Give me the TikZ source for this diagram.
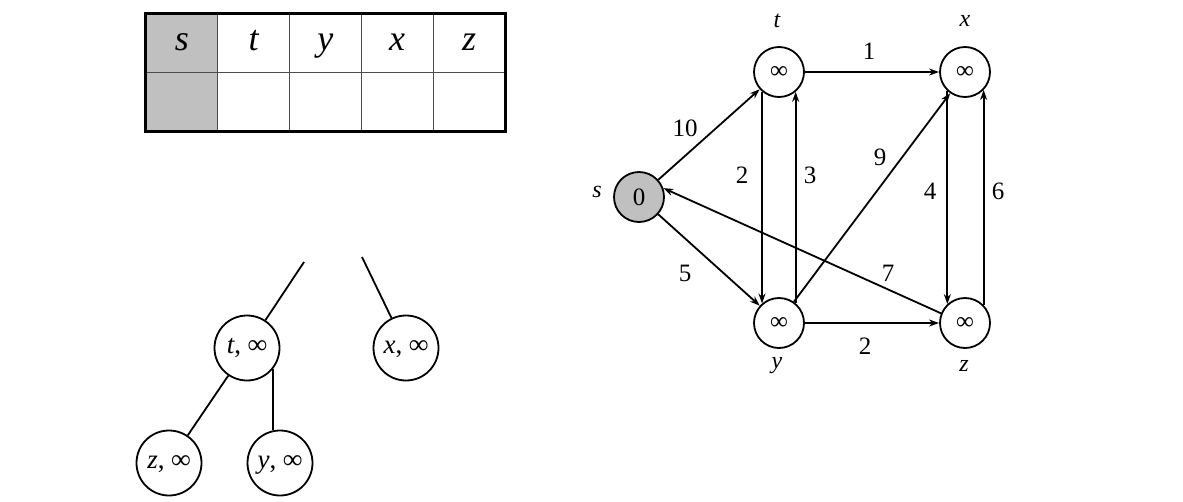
\documentclass[tikz,border=0pt]{standalone}
\usepackage{fontspec}
\setmainfont{Liberation Serif}
\usetikzlibrary{arrows.meta}
\definecolor{cellgray}{RGB}{192,192,192}
\tikzset{
  cell/.style={draw=black!70, line width=1pt, minimum width=72pt, minimum height=58.5pt, inner sep=0pt, text height=22pt, text depth=8pt, font=\fontsize{36}{36}\selectfont\itshape},
  gnode/.style={circle, draw, line width=1.8pt, minimum size=50pt, inner sep=0pt, font=\fontsize{25}{25}\selectfont},
  tnode/.style={circle, draw, line width=1.8pt, minimum size=65pt, inner sep=0pt, text height=17pt, text depth=6pt, font=\fontsize{27}{27}\selectfont},
  nlab/.style={font=\fontsize{24}{24}\selectfont\itshape},
  wlab/.style={font=\fontsize{25}{25}\selectfont},
  edge/.style={line width=1.8pt, -{Stealth[length=10pt,width=7pt]}},
  tedge/.style={line width=1.8pt},
}
\begin{document}
\begin{tikzpicture}[x=1pt,y=-1pt]
\useasboundingbox[fill=white] (0,0) rectangle (1183,501);
% table
\fill[cellgray] (146,14) rectangle (217.5,131);
\node[cell] (hs) at (181.8,43.2) {s};
\node[cell] (ht) at (253.6,43.2) {t};
\node[cell] (hy) at (325.4,43.2) {y};
\node[cell] (hx) at (397.2,43.2) {x};
\node[cell] (hz) at (469,43.2) {z};
\node[cell] (vs) at (181.8,101.8) {};
\node[cell] (vt) at (253.6,101.8) {};
\node[cell] (vy) at (325.4,101.8) {};
\node[cell] (vx) at (397.2,101.8) {};
\node[cell] (vz) at (469,101.8) {};
\draw[line width=3pt] (hs.north west) rectangle (vz.south east);
% tree
\node[tnode] (tt) at (247,348) {\textit{t}, {\bfseries ∞}};
\node[tnode] (tx) at (406,348) {\textit{x}, {\bfseries ∞}};
\node[tnode] (tz) at (169,463) {\textit{z}, {\bfseries ∞}};
\node[tnode] (ty) at (280,463) {\textit{y}, {\bfseries ∞}};
\coordinate (fa) at (304,262);
\coordinate (fb) at (362,257);
\draw[tedge] (fa) -- (tt);
\draw[tedge] (fb) -- (tx);
\draw[tedge] (tt) -- (tz);
\draw[tedge] (tt.322) -- (tt.322 |- ty.north);
% graph
\node[gnode, fill=cellgray] (s) at (639,197) {0};
\node[gnode] (t) at (779,72) {∞};
\node[gnode] (x) at (965,72) {∞};
\node[gnode] (y) at (779,323) {∞};
\node[gnode] (z) at (965,323) {∞};
\node[nlab] (ls) at (597,192) {s};
\node[nlab] (lt) at (777,21) {t};
\node[nlab] (lx) at (965,21) {x};
\node[nlab] (ly) at (777,366) {y};
\node[nlab] (lz) at (964,366) {z};
\draw[edge] (t) -- (x);
\draw[edge] (y) -- (z);
\draw[edge] (s) -- (t);
\draw[edge] (s) -- (y);
\draw[edge] (t.229) -- (y.131);
\draw[edge] (y.50) -- (t.310);
\draw[edge] (x.227) -- (z.133);
\draw[edge] (z.44) -- (x.316);
\draw[edge] (y.55) -- (x.235);
\draw[edge] (z.158) -- (s.20);
\node[wlab] (w1) at (869,51) {1};
\node[wlab] (w10) at (685,128) {10};
\node[wlab] (w5) at (685,273) {5};
\node[wlab] (w2a) at (742,175) {2};
\node[wlab] (w3) at (810,175) {3};
\node[wlab] (w9) at (880,157) {9};
\node[wlab] (w4) at (930,191) {4};
\node[wlab] (w6) at (998,191) {6};
\node[wlab] (w7) at (888,273) {7};
\node[wlab] (w2b) at (865,346) {2};
\end{tikzpicture}
\end{document}
